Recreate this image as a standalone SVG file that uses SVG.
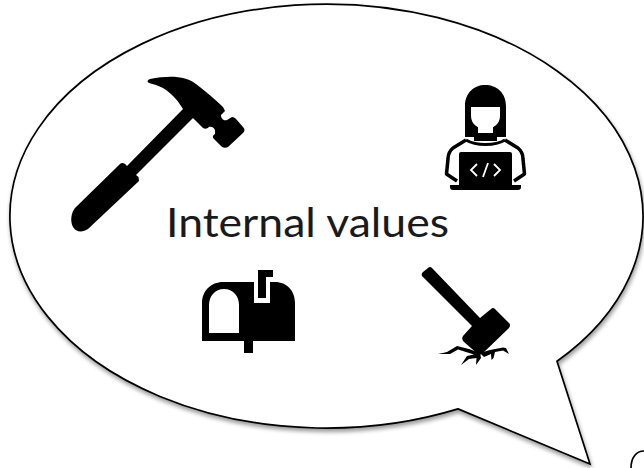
<svg xmlns="http://www.w3.org/2000/svg" width="644" height="468" viewBox="0 0 644 468">
<defs>
<filter id="sh" x="-5%" y="-5%" width="110%" height="110%"><feGaussianBlur in="SourceAlpha" stdDeviation="2"/><feOffset dx="1" dy="2.5"/><feComponentTransfer><feFuncA type="linear" slope="0.4"/></feComponentTransfer><feMerge><feMergeNode/><feMergeNode in="SourceGraphic"/></feMerge></filter>
</defs>
<style>.i{fill:#000}.w{fill:#fff}.s{fill:none;stroke:#000}.c{fill:none;stroke:#fff;stroke-width:1.8}text{font-family:Lato,"Open Sans",sans-serif;fill:#1a1a1a}</style>
<rect width="644" height="468" fill="#fff"/>
<g id="connectors"></g>
<g id="bubble"><path filter="url(#sh)" d="M458 408.900 L590 464 L557 361.300 A316.500 212 0 1 0 458 408.900 Z" fill="#fff" stroke="#000" stroke-width="1.7" stroke-linejoin="miter"/></g>
<g id="fragment"><path class="s" stroke-width="1.7" d="M644 451 C636 451 631 458 631 468"/></g>
<g id="hammer"><path class="i" d="M150 79 C170 75 186 76 196 84 C206 92 215 99 223 107 L225 111 L221 115 C221 119 224 121 227 120 L232 117 C234 117 235 118 236 119 L243 127 C245 129 245 131 243 133 L228 147 C226 148 224 148 222 147 L214 139 C212 137 213 135 215 134 C216 129 213 126 209 127 C207 129 205 129 203 128 L193 118 L136 175 L138.500 177 L139 181 L88 229 C82 233 76 232 73 227 C70 221 71 213 75 208 L120 164 C122 162 125 163 127 166 L183 109 C176 97 166 88 156 85 L149 83 C147 82 147 80 150 79 Z"/></g>
<g id="developer">
<path class="i" d="M465 137 L465 106 C465 93 474 85 485 85 C497 85 506 93 506 106 L506 137 L497 137 L497 141 L474 141 L474 137 Z"/>
<path class="w" d="M471 107 H500 V116 C500 124 493 129 485.500 129 C478 129 471 124 471 116 Z"/>
<path class="w" d="M478 127 H493 V133 H478 Z"/>
<path class="s" stroke-width="3" d="M466 140 C476 146 495 146 505 140"/>
<path class="s" stroke-width="3.500" stroke-linejoin="round" d="M466 140 L453 148 Q448 152 448 159 L446.500 174 L457 181"/>
<path class="s" stroke-width="3.500" stroke-linejoin="round" d="M505 140 L518 148 Q523 152 523 159 L524.500 174 L514 181"/>
<path class="i" d="M461 152 H510 Q512 152 512 154 V185 H521 V187 Q521 190 518 190 H453 Q450 190 450 187 V185 H459 V154 Q459 152 461 152 Z"/>
<path class="c" d="M477 164 L471 170 L477 176"/><path class="c" d="M494 164 L500 170 L494 176"/><path class="c" d="M488 163 L483 177"/>
</g>
<g id="mailbox">
<path class="i" d="M202 341 V303 C202 291 211 282 223 282 H254 V303 H270 V282 H275 C287 282 295 291 295 303 V341 H253 V353 H244 V341 Z"/>
<path class="w" d="M209 333 V305 C209 296 215 289 224 289 C233 289 239 296 239 305 V333 Z"/>
<path class="i" d="M258 270 H273 V277 H266 V298 H258 Z"/>
</g>
<g id="sledge">
<path class="i" d="M422 276 Q421 274 423 272 L428 268 Q430 266 432 268 L480 318 L491 309 Q493 307 495 309 L509 323 Q511 325 509 328 L482 354 L479 355 L464 342 Q461 339 463 336 L472 326 Z"/>
<path class="i" d="M438 354 L447 352 L457 346 L469 349 L480 353 L481 358 L476 365 L476.500 358 L469 359 L461 365 L467 356 L474 354.500 L466 352 L458 349.500 L450 354 Z"/>
<path class="i" d="M480 353 L490 350 L503 347.500 L506 348 L509 354 L503 350.500 L495 352 L493.500 358 L491.500 360 L491 354 L484 357 Z"/>
</g>
<g id="label"><text x="166" y="237" font-size="41" textLength="283" lengthAdjust="spacingAndGlyphs">Internal values</text></g>
</svg>
